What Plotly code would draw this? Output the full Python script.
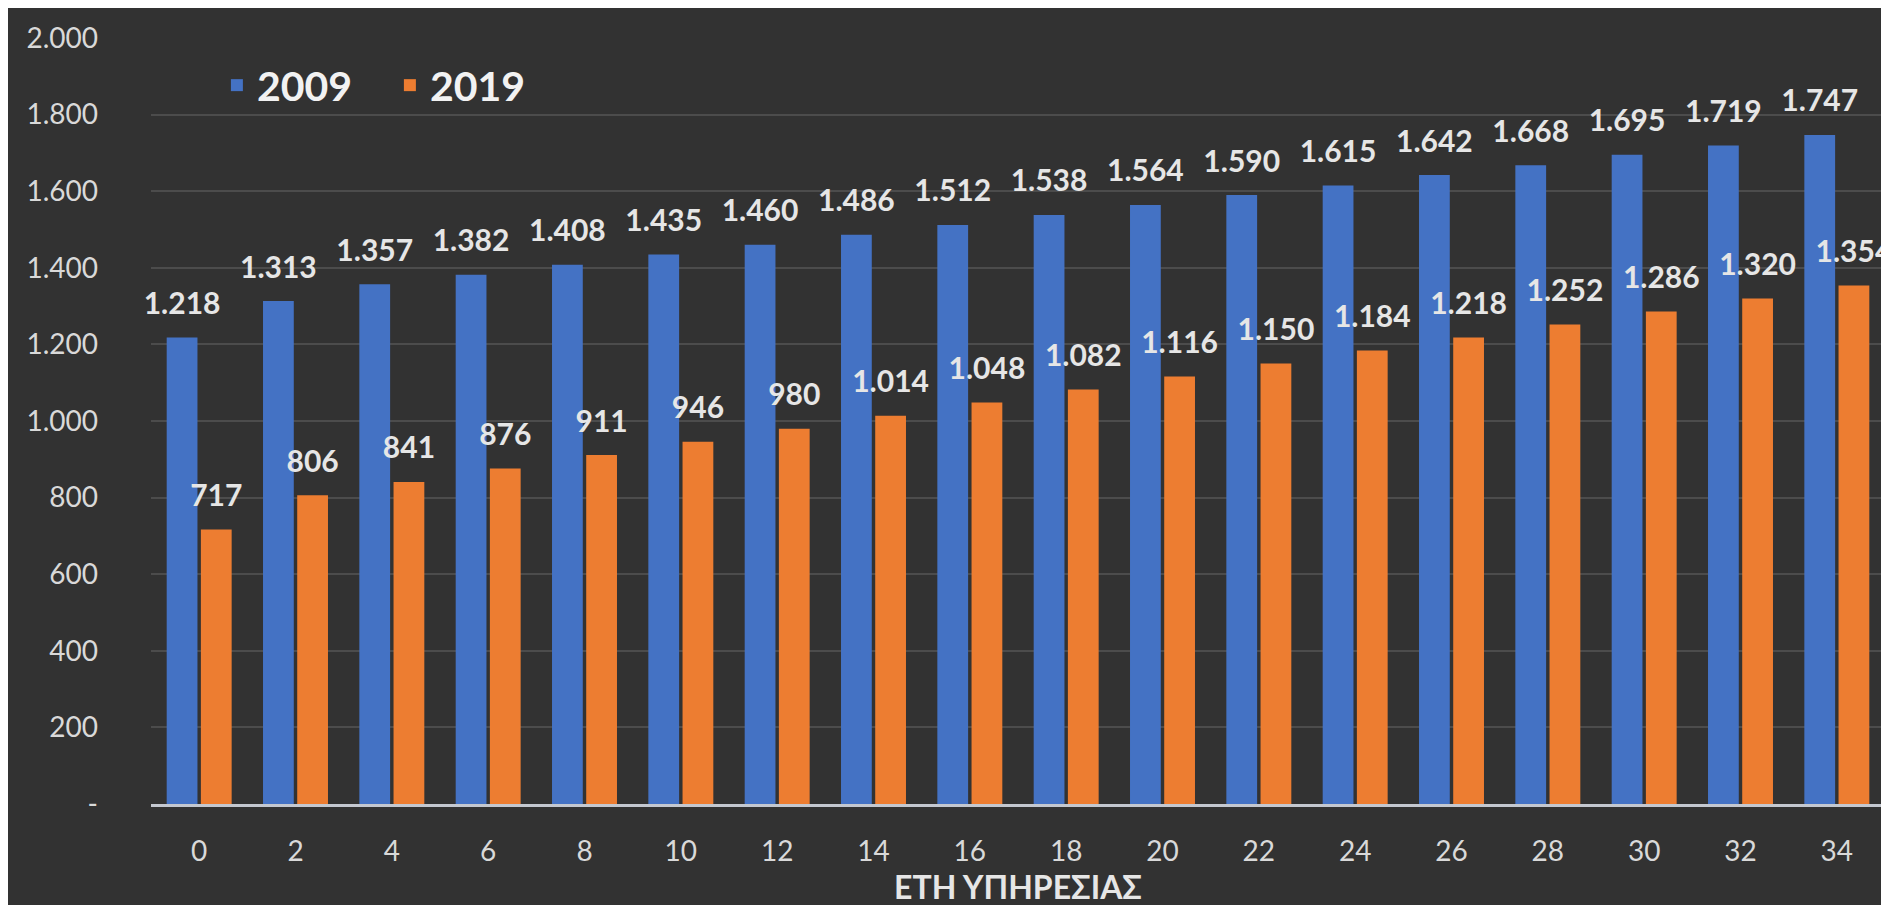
import plotly.graph_objects as go

# years of service (x categories)
years = [0, 2, 4, 6, 8, 10, 12, 14, 16, 18, 20, 22, 24, 26, 28, 30, 32, 34]

salary_2009 = [1218, 1313, 1357, 1382, 1408, 1435, 1460, 1486, 1512,
               1538, 1564, 1590, 1615, 1642, 1668, 1695, 1719, 1747]
salary_2019 = [717, 806, 841, 876, 911, 946, 980, 1014, 1048,
               1082, 1116, 1150, 1184, 1218, 1252, 1286, 1320, 1354]

y_ticks = [0, 200, 400, 600, 800, 1000, 1200, 1400, 1600, 1800, 2000]
y_ticktext = ["-", "200", "400", "600", "800", "1.000", "1.200", "1.400",
              "1.600", "1.800", "2.000"]

x_cats = [str(v) for v in years]

FONT = "Lato, 'Noto Sans', 'Open Sans', sans-serif"
BLUE = "#4472C4"
ORANGE = "#ED7D31"
TEXT = "#e6e6e6"

fig = go.Figure()

for name, vals, color in [("2009", salary_2009, BLUE), ("2019", salary_2019, ORANGE)]:
    fig.add_trace(go.Bar(
        x=x_cats, y=vals, name=name, marker_color=color,
        marker_line_width=0, offsetgroup=name,
    ))

# value labels, placed above each bar via grouped (invisible) scatter points
for name, vals in [("2009", salary_2009), ("2019", salary_2019)]:
    fig.add_trace(go.Scatter(
        x=x_cats, y=vals, mode="markers+text", offsetgroup=name,
        text=[f"{v:,}".replace(",", ".") for v in vals],
        textposition="top center",
        textfont=dict(family=FONT, size=30, color=TEXT, weight="bold"),
        marker=dict(size=24, opacity=0),
        showlegend=False, hoverinfo="skip", cliponaxis=False,
    ))

fig.update_layout(
    width=1889, height=905,
    paper_bgcolor="#323232", plot_bgcolor="rgba(0,0,0,0)",
    margin=dict(l=143, r=12, t=25, b=109),
    barmode="group", bargap=0.29, bargroupgap=0.1,
    scattermode="group", scattergap=0.29,
    font=dict(family=FONT, color=TEXT),
    legend=dict(
        orientation="h", x=0.038, y=0.938, xanchor="left", yanchor="middle",
        font=dict(size=41, color="#f2f2f2", weight="bold"),
        bgcolor="rgba(0,0,0,0)", entrywidth=128,
    ),
    showlegend=True,
)

fig.update_xaxes(
    type="category", showgrid=False, showline=True, linecolor="#c4c8d0", linewidth=3,
    tickfont=dict(size=28, color="#d9d9d9"), ticks="", ticklabelstandoff=20,
    title=dict(text="ΕΤΗ ΥΠΗΡΕΣΙΑΣ", font=dict(size=32, color="#e6e6e6", weight="bold"),
               standoff=10),
    zeroline=False,
)
fig.update_yaxes(
    range=[0, 2000], tickvals=y_ticks, ticktext=y_ticktext,
    showgrid=True, gridcolor="#4c4c4c", gridwidth=2,
    tickfont=dict(size=28, color="#d9d9d9"), ticklabelstandoff=52,
    zeroline=False, showline=False,
)

fig.write_html("out.html")
